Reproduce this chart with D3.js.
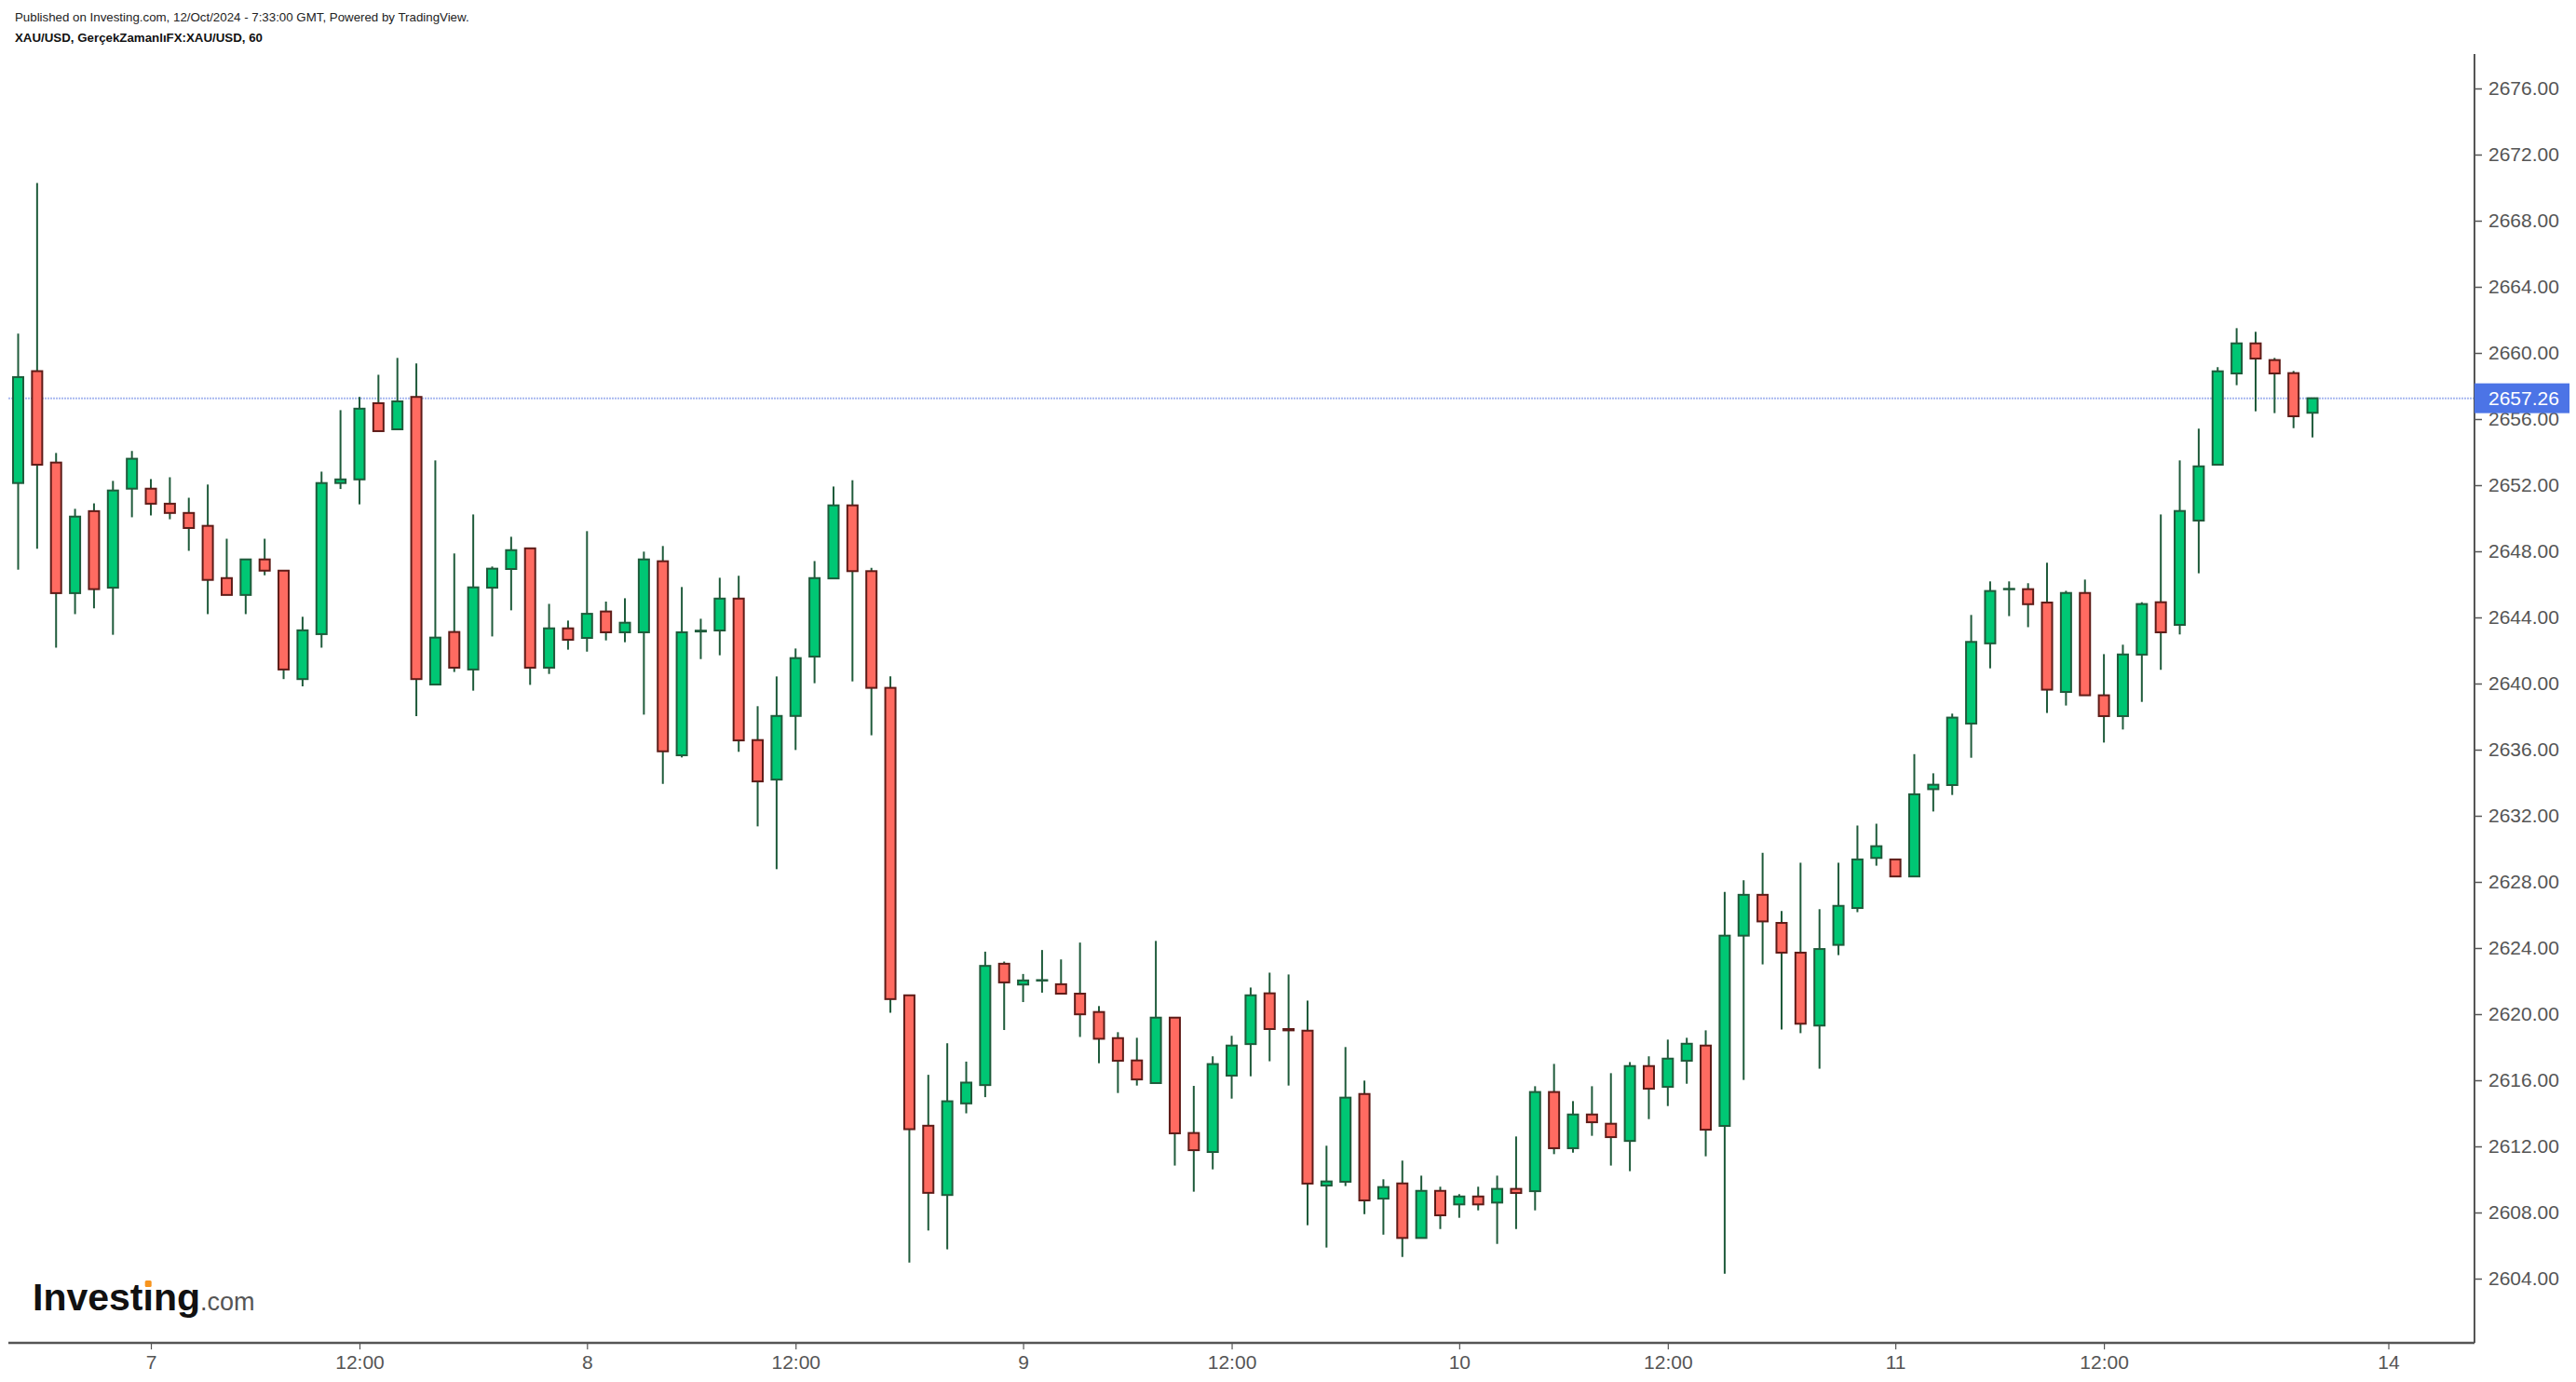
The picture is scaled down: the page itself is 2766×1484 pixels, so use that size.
<!DOCTYPE html>
<html><head><meta charset="utf-8">
<script src="https://cdn.jsdelivr.net/npm/d3@7"></script>
<style>
html,body{margin:0;padding:0;background:#fff;}
svg{display:block;}
text{font-family:"Liberation Sans",Arial,sans-serif;}
</style>
</head><body>
<svg id="chart" width="2766" height="1484"></svg>
<script>
// ---- data (XAU/USD hourly candles) ----
const openV = [
2652.13,2658.90,2653.37,2645.47,2650.43,2645.80,2651.79,2651.79,2650.88,2650.32,
2649.54,2646.38,2645.36,2647.51,2646.83,2640.27,2642.99,2652.13,2652.35,2656.96,
2655.38,2657.34,2639.94,2643.12,2640.85,2645.80,2646.93,2648.18,2640.96,2643.34,
2642.76,2644.36,2643.10,2643.10,2647.40,2635.66,2643.15,2643.21,2645.14,2636.58,
2634.19,2638.04,2641.63,2646.36,2650.78,2646.80,2639.74,2621.14,2613.25,2609.06,
2614.60,2615.71,2623.05,2621.79,2622.04,2621.81,2621.24,2620.13,2618.55,2617.20,
2615.83,2619.79,2612.81,2611.66,2616.28,2618.19,2621.26,2619.10,2619.00,2609.63,
2609.86,2615.17,2608.84,2609.76,2606.46,2609.31,2608.49,2608.97,2608.60,2609.43,
2609.29,2615.29,2611.89,2613.93,2613.37,2612.33,2616.86,2615.60,2617.18,2618.10,
2613.24,2624.75,2627.22,2625.52,2623.72,2619.31,2624.19,2626.42,2629.45,2629.36,
2628.33,2633.61,2633.86,2637.58,2642.43,2645.71,2645.71,2644.90,2639.49,2645.48,
2639.29,2638.03,2641.75,2644.92,2643.55,2649.86,2653.24,2658.76,2660.58,2659.57,
2658.78,2656.38];
const highV = [
2661.17,2670.28,2653.95,2650.57,2650.90,2652.26,2654.07,2652.37,2652.48,2651.24,
2652.04,2648.76,2647.51,2648.76,2646.83,2644.04,2652.82,2656.54,2657.34,2658.68,
2659.70,2659.37,2653.50,2647.87,2650.23,2647.08,2648.88,2648.18,2644.82,2643.81,
2649.22,2644.96,2645.16,2647.98,2648.32,2645.84,2643.92,2646.40,2646.52,2638.63,
2640.43,2642.12,2647.41,2651.92,2652.30,2647.00,2640.44,2621.14,2616.33,2618.24,
2617.13,2623.78,2623.18,2622.43,2623.88,2623.31,2624.33,2620.49,2618.91,2618.57,
2624.43,2619.79,2615.66,2617.45,2618.69,2621.61,2622.51,2622.40,2620.82,2612.04,
2618.01,2615.98,2610.01,2611.14,2610.23,2609.56,2609.11,2609.56,2610.23,2612.60,
2615.64,2616.99,2614.74,2615.64,2616.43,2617.10,2617.45,2618.46,2618.57,2619.02,
2627.40,2628.10,2629.76,2626.24,2629.16,2626.35,2629.16,2631.41,2631.52,2629.36,
2635.73,2634.57,2638.18,2644.15,2646.18,2646.18,2646.07,2647.31,2645.61,2646.29,
2641.78,2642.35,2644.92,2650.23,2653.50,2655.42,2659.14,2661.50,2661.28,2659.70,
2658.91,2657.26];
const lowV = [
2646.89,2648.16,2642.17,2644.20,2644.55,2642.95,2650.06,2650.17,2649.94,2648.03,
2644.20,2645.36,2644.20,2646.55,2640.27,2639.83,2642.17,2651.77,2650.84,2655.27,
2655.38,2638.03,2639.94,2640.70,2639.57,2642.85,2644.43,2639.92,2640.58,2642.05,
2641.93,2642.61,2642.50,2638.12,2633.93,2635.53,2641.48,2641.71,2635.87,2631.36,
2628.77,2635.98,2640.02,2646.36,2640.13,2636.87,2620.08,2604.97,2606.91,2605.77,
2614.00,2614.98,2619.04,2620.73,2621.30,2621.24,2618.62,2617.03,2615.23,2615.68,
2615.83,2610.84,2609.26,2610.61,2614.89,2616.24,2617.15,2615.68,2607.23,2605.88,
2609.60,2607.90,2606.66,2605.31,2606.46,2607.00,2607.68,2608.13,2606.10,2607.00,
2608.13,2611.53,2611.62,2612.64,2610.84,2610.50,2613.65,2614.44,2615.79,2611.40,
2604.30,2616.02,2623.01,2619.07,2618.85,2616.70,2623.57,2626.17,2628.98,2628.33,
2628.33,2632.26,2633.26,2635.51,2640.92,2644.08,2643.41,2638.22,2638.67,2639.29,
2636.43,2637.22,2638.89,2640.83,2642.97,2646.67,2653.24,2658.05,2656.47,2656.36,
2655.45,2654.89];
const closeV = [
2658.54,2653.24,2645.47,2650.10,2645.71,2651.68,2653.60,2650.88,2650.32,2649.41,
2646.27,2645.36,2647.51,2646.83,2640.85,2643.22,2652.13,2652.35,2656.63,2655.27,
2657.07,2640.27,2642.78,2640.96,2645.82,2646.95,2648.07,2640.96,2643.34,2642.65,
2644.22,2643.10,2643.68,2647.51,2635.90,2643.10,2643.20,2645.14,2636.56,2634.08,
2638.04,2641.54,2646.38,2650.78,2646.80,2639.74,2620.91,2613.04,2609.19,2614.73,
2615.86,2622.92,2621.92,2622.04,2622.06,2621.24,2619.99,2618.51,2617.18,2616.05,
2619.79,2612.79,2611.77,2616.98,2618.10,2621.14,2619.10,2619.02,2609.75,2609.88,
2614.95,2608.73,2609.54,2606.46,2609.31,2607.83,2608.97,2608.49,2609.43,2609.18,
2615.29,2611.89,2613.93,2613.46,2612.56,2616.86,2615.49,2617.31,2618.21,2613.01,
2624.75,2627.22,2625.61,2623.72,2619.42,2623.94,2626.55,2629.36,2630.16,2628.33,
2633.30,2633.88,2637.94,2642.52,2645.60,2645.73,2644.80,2639.63,2645.48,2639.29,
2638.03,2641.76,2644.81,2643.10,2650.44,2653.14,2658.89,2660.58,2659.66,2658.76,
2656.17,2657.26];

const xTickIndex  = [7, 18, 30, 41, 53, 64, 76, 87, 99, 110, 125];
const xTickLabels = ["7","12:00","8","12:00","9","12:00","10","12:00","11","12:00","14"];
const yTickValues = [2604,2608,2612,2616,2620,2624,2628,2632,2636,2640,2644,2648,2652,2656,2660,2664,2668,2672,2676];
const lastPrice = 2657.26;
const headerLine1 = "Published on Investing.com, 12/Oct/2024 - 7:33:00 GMT, Powered by TradingView.";
const headerLine2 = "XAU/USD, GerçekZamanlıFX:XAU/USD, 60";

// ---- layout / style ----
const W = 2766, H = 1484;
const plotLeft = 9, axisX = 2657, axisTop = 58, axisBottomY = 1442;
const barStep = 20.36, firstBarX = 19.5;
const bodyW = 11;
const C = {
  upFill: "#00c774", upLine: "#1f5b3b",
  dnFill: "#ff6b61", dnLine: "#5e1c18",
  wick: "#1f5b3b", axis: "#555555", label: "#555555",
  priceLine: "#a9b9f0", priceBox: "#4c74e6"
};

const candles = openV.map((o, i) => ({i, o, h: highV[i], l: lowV[i], c: closeV[i]}));

const x = d3.scaleLinear().domain([0, candles.length - 1])
  .range([firstBarX, firstBarX + (candles.length - 1) * barStep]);
const y = d3.scaleLinear().domain([2604, 2676]).range([1373, 95]);

const svg = d3.select("#chart");
svg.append("rect").attr("width", W).attr("height", H).attr("fill", "#fff");

// header
svg.append("text").attr("x", 16).attr("y", 23).attr("font-size", 13.3)
  .attr("fill", "#222").text(headerLine1);
svg.append("text").attr("x", 16).attr("y", 45).attr("font-size", 13.3)
  .attr("font-weight", "bold").attr("fill", "#111").text(headerLine2);

// current price line
svg.append("line").attr("x1", plotLeft).attr("x2", axisX)
  .attr("y1", y(lastPrice)).attr("y2", y(lastPrice))
  .attr("stroke", C.priceLine).attr("stroke-width", 2)
  .attr("stroke-dasharray", "2,1");

// candles
const g = svg.append("g");
g.selectAll("line.wick").data(candles).join("line").attr("class", "wick")
  .attr("x1", d => x(d.i)).attr("x2", d => x(d.i))
  .attr("y1", d => y(d.h)).attr("y2", d => y(d.l))
  .attr("stroke", C.wick).attr("stroke-width", 2);

g.selectAll("rect.body").data(candles).join("rect").attr("class", "body")
  .attr("x", d => x(d.i) - bodyW / 2)
  .attr("y", d => y(Math.max(d.o, d.c)))
  .attr("width", bodyW)
  .attr("height", d => Math.max(Math.abs(y(d.o) - y(d.c)), 0.5))
  .attr("fill", d => d.c >= d.o ? C.upFill : C.dnFill)
  .attr("stroke", d => d.c >= d.o ? C.upLine : C.dnLine)
  .attr("stroke-width", 2);

// y axis
const yAxis = d3.axisRight(y).tickValues(yTickValues)
  .tickFormat(d => d.toFixed(2)).tickSize(8).tickPadding(7).tickSizeOuter(0);
const gy = svg.append("g").attr("transform", `translate(${axisX},0)`).call(yAxis);
gy.select(".domain").remove();
gy.selectAll(".tick line").attr("stroke", C.axis).attr("stroke-width", 1.5);
gy.selectAll(".tick text").attr("fill", C.label).attr("font-size", 21)
  .attr("font-family", "'Liberation Sans', Arial, sans-serif");
svg.append("line").attr("x1", axisX).attr("x2", axisX)
  .attr("y1", axisTop).attr("y2", axisBottomY)
  .attr("stroke", C.axis).attr("stroke-width", 2);

// x axis
const xAxis = d3.axisBottom(x).tickValues(xTickIndex)
  .tickFormat((d, k) => xTickLabels[k]).tickSize(7).tickPadding(6).tickSizeOuter(0);
const gx = svg.append("g").attr("transform", `translate(0,${axisBottomY})`).call(xAxis);
gx.select(".domain").remove();
gx.selectAll(".tick line").attr("stroke", C.axis).attr("stroke-width", 1.2);
gx.selectAll(".tick text").attr("fill", C.label).attr("font-size", 21)
  .attr("font-family", "'Liberation Sans', Arial, sans-serif");
svg.append("line").attr("x1", plotLeft).attr("x2", axisX)
  .attr("y1", axisBottomY).attr("y2", axisBottomY)
  .attr("stroke", C.axis).attr("stroke-width", 2.5);

// price label
const py = y(lastPrice);
svg.append("rect").attr("x", axisX).attr("y", py - 16).attr("width", 102).attr("height", 32)
  .attr("fill", C.priceBox);
svg.append("text").attr("x", axisX + 15).attr("y", py).attr("dy", "0.35em")
  .attr("font-size", 21).attr("fill", "#fff").text(lastPrice.toFixed(2));

// logo
const logoBase = 1407;
const logo = svg.append("text").attr("x", 35).attr("y", logoBase);
logo.append("tspan").attr("font-size", 41).attr("font-weight", "bold")
  .attr("fill", "#111").text("Investing");
logo.append("tspan").attr("font-size", 27).attr("fill", "#555").text(".com");
try {
  const ext = logo.node().getExtentOfChar(6);
  const cx = ext.x + ext.width / 2;
  svg.append("rect").attr("x", cx - 4).attr("y", logoBase - 31).attr("width", 8).attr("height", 8)
    .attr("fill", "#fff");
  svg.append("rect").attr("x", cx - 3.5).attr("y", logoBase - 32).attr("width", 7).attr("height", 7)
    .attr("rx", 1.5).attr("fill", "#f7941d");
} catch (e) {}
</script>
</body></html>
